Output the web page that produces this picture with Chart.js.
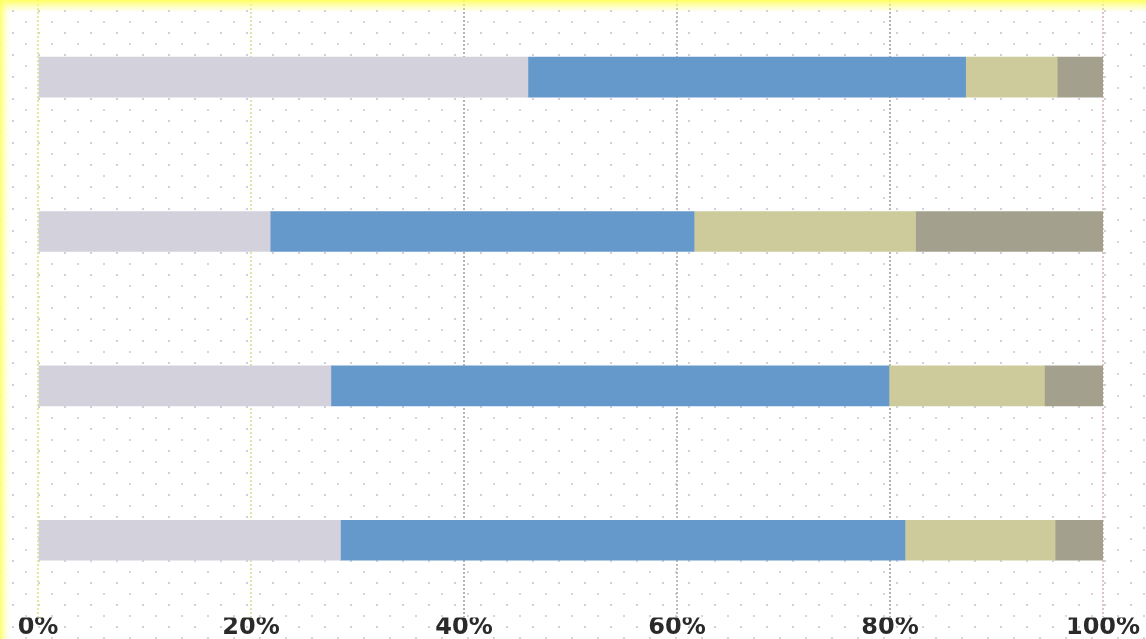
<!DOCTYPE html>
<html>
<head>
<meta charset="utf-8">
<script src="https://cdn.jsdelivr.net/npm/chart.js@4/dist/chart.umd.min.js"></script>
<style>
  html, body { margin: 0; padding: 0; overflow: hidden; background: #fff; }
  #wrap {
    position: relative; width: 1160px; height: 639px;
    background-image:
      radial-gradient(circle, #cfcfe0 0.9px, transparent 1.2px),
      radial-gradient(circle, #e4cfd4 0.9px, transparent 1.2px);
    background-size: 26px 22px, 26px 22px;
    background-position: 0 0, 13px 11px;
  }
  #edgeTop {
    position: absolute; left: 0; top: 0; width: 1146px; height: 12px;
    pointer-events: none;
    background: linear-gradient(to bottom, rgba(255,255,90,0.95) 0, rgba(255,255,120,0.6) 5px, rgba(255,255,160,0) 12px);
  }
  #edgeLeft {
    position: absolute; left: 0; top: 0; width: 10px; height: 639px;
    pointer-events: none;
    background: linear-gradient(to right, rgba(255,255,90,0.9) 0, rgba(255,255,130,0.5) 4px, rgba(255,255,160,0) 10px);
  }
</style>
</head>
<body>
<div id="wrap">
  <canvas id="chart" width="1160" height="639"></canvas>
  <div id="edgeTop"></div>
  <div id="edgeLeft"></div>
</div>
<script>
const categories = ["A", "B", "C", "D"];
const seriesNames = ["Part 1", "Part 2", "Part 3", "Part 4"];
const part1 = [46.0, 21.8, 27.5, 28.4];
const part2 = [41.1, 39.8, 52.4, 53.0];
const part3 = [8.6, 20.8, 14.6, 14.1];
const part4 = [4.3, 17.6, 5.5, 4.5];
const tickValues = [0, 20, 40, 60, 80, 100];

const colors = ["#d3d1dc", "#6598cb", "#cdcb9b", "#a3a18d"];
const gridColors = ["#e8e890", "#e4e4a8", "#b4b4b4", "#bcbcbc", "#b4b4b4", "#d8c4c4"];

const ctx = document.getElementById("chart").getContext("2d");
new Chart(ctx, {
  type: "bar",
  data: {
    labels: categories,
    datasets: [part1, part2, part3, part4].map((d, i) => ({
      label: seriesNames[i],
      data: d,
      backgroundColor: colors[i],
      borderWidth: 0,
      barThickness: 40
    }))
  },
  options: {
    indexAxis: "y",
    responsive: false,
    animation: false,
    layout: { padding: { left: 38, right: 57, top: 0, bottom: 0 } },
    plugins: { legend: { display: false }, tooltip: { enabled: false } },
    scales: {
      x: {
        stacked: true,
        min: 0,
        max: 100,
        border: { display: false, dash: [2, 2] },
        afterBuildTicks: axis => { axis.ticks = tickValues.map(v => ({ value: v })); },
        grid: {
          drawTicks: false,
          lineWidth: 2,
          color: c => gridColors[c.index] || "#bdbdbd"
        },
        ticks: {
          padding: 0,
          color: "#2a2a2a",
          font: { family: "DejaVu Sans", size: 24, weight: "bold", lineHeight: 0.9 },
          callback: v => v + "%"
        }
      },
      y: {
        stacked: true,
        display: false
      }
    }
  }
});
</script>
</body>
</html>
